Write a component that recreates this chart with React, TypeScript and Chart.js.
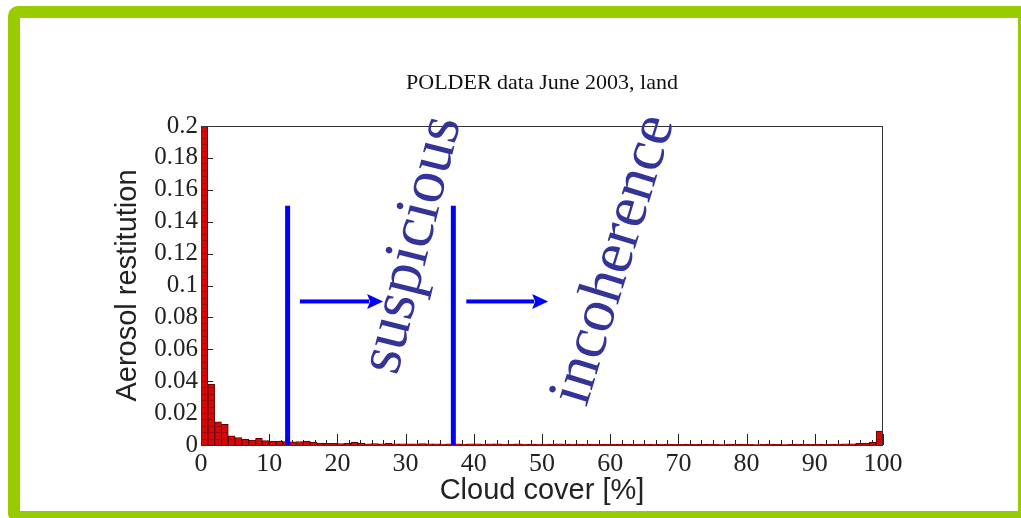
import React, { useEffect, useRef } from 'react';
import { Chart, registerables } from 'chart.js';

Chart.register(...registerables);

// Histogram of aerosol retrieval rate against cloud cover, 1 % wide bins
const binStarts: number[] = Array.from({ length: 100 }, (_, i) => i);
const restitution: number[] = [
  0.2, 0.038, 0.0146, 0.013, 0.0058, 0.0046, 0.0036, 0.0031, 0.0042, 0.0027,
  0.0025, 0.0025, 0.0021, 0.002, 0.0022, 0.0024, 0.0018, 0.0012, 0.001, 0.0011,
  0.0009, 0.001, 0.0016, 0.0012, 0.0008, 0.0009, 0.0008, 0.001, 0.0008, 0.0007,
  0.0008, 0.0007, 0.0009, 0.0007, 0.0008, 0.0006, 0.0007, 0.0008, 0.0006, 0.0007,
  0.0008, 0.0006, 0.0007, 0.0008, 0.0006, 0.0005, 0.0007, 0.0006, 0.0005, 0.0006,
  0.0006, 0.0005, 0.0007, 0.0005, 0.0006, 0.0005, 0.0006, 0.0005, 0.0004, 0.0005,
  0.0005, 0.0004, 0.0005, 0.0004, 0.0005, 0.0004, 0.0006, 0.0004, 0.0005, 0.0004,
  0.0004, 0.0005, 0.0004, 0.0004, 0.0005, 0.0004, 0.0003, 0.0005, 0.0004, 0.0005,
  0.0004, 0.0003, 0.0004, 0.0005, 0.0004, 0.0003, 0.0004, 0.0005, 0.0004, 0.0004,
  0.0005, 0.0004, 0.0005, 0.0006, 0.0007, 0.0008, 0.001, 0.0012, 0.0016, 0.0088,
];

const xTickValues = [0, 10, 20, 30, 40, 50, 60, 70, 80, 90, 100];
const xTickLabels = ['0', '10', '20', '30', '40', '50', '60', '70', '80', '90', '100'];
const yTickValues = [0, 0.02, 0.04, 0.06, 0.08, 0.1, 0.12, 0.14, 0.16, 0.18, 0.2];
const yTickLabels = ['0', '0.02', '0.04', '0.06', '0.08', '0.1', '0.12', '0.14', '0.16', '0.18', '0.2'];

// Overlaid interpretation: cloud-cover thresholds and the regimes beyond them
const thresholds = [12.7, 37];
const thresholdTop = 0.15;
const arrowSpans: [number, number][] = [
  [14.5, 26.7],
  [38.9, 50.9],
];
const arrowLevel = 0.09;
const regimeNotes = [
  { text: 'suspicious', x: 33.4, y: 0.123, angle: -76, size: 63 },
  { text: 'incoherence', x: 62.9, y: 0.113, angle: -73, size: 62 },
];

const histogramDecor = {
  id: 'histogramDecor',
  beforeDatasetsDraw(chart: any) {
    const { ctx, chartArea: a, scales } = chart;
    const x = scales.x;
    const y = scales.y;
    ctx.save();
    ctx.strokeStyle = '#222';
    ctx.lineWidth = 1;
    ctx.beginPath();
    yTickValues.forEach((v) => {
      const py = Math.round(y.getPixelForValue(v)) + 0.5;
      ctx.moveTo(a.left, py);
      ctx.lineTo(a.left + 12, py);
    });
    for (let k = 0; k <= 60; k++) {
      const px = Math.round(x.getPixelForValue((k * 10) / 6)) + 0.5;
      const len = k % 6 === 0 ? 11 : 5;
      ctx.moveTo(px, a.bottom);
      ctx.lineTo(px, a.bottom - len);
    }
    ctx.stroke();
    ctx.restore();
  },
  afterDatasetsDraw(chart: any) {
    const { ctx, chartArea: a } = chart;
    ctx.save();
    // stacked-cell texture inside each bar
    ctx.strokeStyle = 'rgba(110,0,0,0.45)';
    ctx.lineWidth = 1;
    ctx.beginPath();
    chart.getDatasetMeta(0).data.forEach((bar: any) => {
      const { x, y, base, width } = bar.getProps(['x', 'y', 'base', 'width'], true);
      for (let py = base - 6.4; py > y + 2; py -= 6.4) {
        const yy = Math.round(py) + 0.5;
        ctx.moveTo(x - width / 2 + 1, yy);
        ctx.lineTo(x + width / 2 - 1, yy);
      }
    });
    ctx.stroke();
    // plot frame
    ctx.strokeStyle = '#333';
    ctx.strokeRect(Math.round(a.left) + 0.5, Math.round(a.top) + 0.5, Math.round(a.width) - 1, Math.round(a.height));
    ctx.restore();
  },
  afterDraw(chart: any) {
    const { ctx, scales } = chart;
    const x = scales.x;
    const y = scales.y;
    ctx.save();
    ctx.fillStyle = '#0000ff';
    thresholds.forEach((v) => {
      const px = x.getPixelForValue(v);
      const top = y.getPixelForValue(thresholdTop);
      ctx.fillRect(px - 2.5, top, 5, y.getPixelForValue(0) - top);
    });
    arrowSpans.forEach(([s, e]) => {
      const x0 = x.getPixelForValue(s);
      const x1 = x.getPixelForValue(e);
      const py = y.getPixelForValue(arrowLevel);
      ctx.fillRect(x0, py - 2, x1 - 14 - x0, 4);
      ctx.beginPath();
      ctx.moveTo(x1, py);
      ctx.lineTo(x1 - 16, py - 7.5);
      ctx.lineTo(x1 - 13, py);
      ctx.lineTo(x1 - 16, py + 7.5);
      ctx.closePath();
      ctx.fill();
    });
    ctx.fillStyle = '#333399';
    ctx.textAlign = 'center';
    ctx.textBaseline = 'alphabetic';
    regimeNotes.forEach((n) => {
      ctx.save();
      ctx.font = `${n.size}px "Liberation Serif", "Times New Roman", serif`;
      ctx.translate(x.getPixelForValue(n.x), y.getPixelForValue(n.y));
      ctx.rotate((n.angle * Math.PI) / 180);
      ctx.fillText(n.text, 0, 0);
      ctx.restore();
    });
    ctx.restore();
  },
};

export default function App() {
  const canvasRef = useRef<HTMLCanvasElement | null>(null);

  useEffect(() => {
    const canvas = canvasRef.current;
    if (!canvas) return;
    const chart = new Chart(canvas, {
      type: 'bar',
      data: {
        datasets: [
          {
            data: binStarts.map((b, i) => ({ x: b + 0.5, y: restitution[i] })),
            backgroundColor: '#d40808',
            borderColor: '#5a0000',
            borderWidth: 1,
            barPercentage: 1,
            categoryPercentage: 1,
          },
        ],
      },
      options: {
        responsive: false,
        animation: false,
        devicePixelRatio: 1,
        layout: { padding: { top: 70, right: 138, bottom: 0, left: 0 } },
        plugins: {
          legend: { display: false },
          tooltip: { enabled: false },
          title: {
            display: true,
            text: 'POLDER data June 2003, land',
            fullSize: false,
            color: '#111',
            font: { family: '"Liberation Serif", "Times New Roman", serif', size: 22, weight: 'normal' },
            padding: { top: 0, bottom: 29.6 },
          },
        },
        scales: {
          x: {
            type: 'linear',
            min: 0,
            max: 100,
            offset: false,
            grid: { display: false, drawTicks: false, offset: false },
            border: { display: false },
            afterBuildTicks: (scale: any) => {
              scale.ticks = xTickValues.map((v) => ({ value: v }));
            },
            afterFit: (scale: any) => {
              scale.height = 73;
            },
            ticks: {
              padding: 4,
              maxRotation: 0,
              autoSkip: false,
              color: '#222',
              font: { family: '"Liberation Serif", "Times New Roman", serif', size: 26 },
              callback: (_v: any, i: number) => xTickLabels[i],
            },
            title: {
              display: true,
              text: 'Cloud cover [%]',
              color: '#222',
              font: { family: '"Liberation Sans", Arial, sans-serif', size: 29 },
              padding: { top: 0, bottom: 10 },
            },
          },
          y: {
            type: 'linear',
            min: 0,
            max: 0.2,
            grid: { display: false, drawTicks: false },
            border: { display: false },
            afterBuildTicks: (scale: any) => {
              scale.ticks = yTickValues.map((v) => ({ value: v }));
            },
            afterFit: (scale: any) => {
              scale.width = 201;
            },
            ticks: {
              padding: 3,
              autoSkip: false,
              color: '#222',
              font: { family: '"Liberation Serif", "Times New Roman", serif', size: 25 },
              callback: (_v: any, i: number) => yTickLabels[i],
            },
            title: {
              display: true,
              text: 'Aerosol restitution',
              color: '#222',
              font: { family: '"Liberation Sans", Arial, sans-serif', size: 29 },
              padding: { top: 111, bottom: 0 },
            },
          },
        },
      },
      plugins: [histogramDecor],
    } as any);
    return () => chart.destroy();
  }, []);

  return (
    <div
      style={{
        position: 'fixed',
        left: 0,
        top: 0,
        width: 1021,
        height: 518,
        overflow: 'hidden',
        background: '#fff',
      }}
    >
      <div
        style={{
          position: 'absolute',
          left: 8,
          top: 6,
          width: 1022,
          height: 517,
          boxSizing: 'border-box',
          border: '12px solid #99cc00',
          borderRadius: 10,
        }}
      />
      <canvas
        ref={canvasRef}
        width={1021}
        height={518}
        style={{ position: 'absolute', left: 0, top: 0 }}
      />
    </div>
  );
}
